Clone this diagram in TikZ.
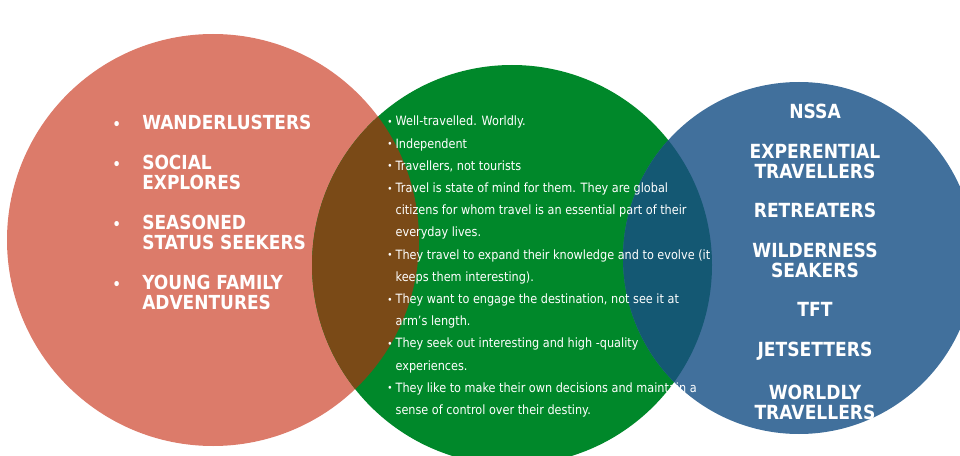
\documentclass[tikz,border=0pt]{standalone}
\usepackage{fontspec}
\setmainfont{DejaVu Sans}[FakeStretch=0.88]
\usetikzlibrary{positioning}

\definecolor{salmon}{RGB}{220,123,106}
\definecolor{leaf}{RGB}{0,136,42}
\definecolor{steel}{RGB}{65,112,156}
\definecolor{umber}{RGB}{122,74,23}
\definecolor{deepteal}{RGB}{20,88,115}

\newcommand{\bigdot}{\llap{{\fontsize{11}{11}\selectfont\textbullet}\hspace{16pt}}}
\newcommand{\itm}{\makebox[6.3pt][l]{\fontsize{7.5}{6}\selectfont\raisebox{0.4pt}{\textbullet}}}
\newcommand{\cnt}{\hspace*{6.3pt}}

\tikzset{
  group/.style={font=\bfseries\fontsize{14.5}{15}\selectfont, text=white,
    inner sep=0pt, align=left},
  kind/.style={font=\bfseries\fontsize{14.6}{15}\selectfont, text=white,
    inner sep=0pt, align=center},
  traits/.style={font=\fontsize{9.6}{16.65}\selectfont, text=white,
    inner sep=0pt, align=left, anchor=north west},
}

\begin{document}
\begin{tikzpicture}[x=0.75pt,y=-0.75pt]
  \useasboundingbox (0,0) rectangle (960,456);

  \coordinate (lc) at (213,240);
  \coordinate (mc) at (512,265);
  \coordinate (rc) at (799,258);

  \fill[salmon] (lc) circle [radius=206];
  \fill[leaf] (mc) circle [radius=200];
  \fill[steel] (rc) circle [radius=176];
  \begin{scope}
    \clip (lc) circle [radius=206];
    \fill[umber] (mc) circle [radius=200];
  \end{scope}
  \begin{scope}
    \clip (rc) circle [radius=176];
    \fill[deepteal] (mc) circle [radius=200];
  \end{scope}

  % left circle
  \node[group, anchor=north west] (wander) at (142,115) {\bigdot WANDERLUSTERS};
  \node[group, below=18.6pt of wander.south west, anchor=north west] (social) {\bigdot SOCIAL\\EXPLORES};
  \node[group, below=18.6pt of social.south west, anchor=north west] (status) {\bigdot SEASONED\\STATUS SEEKERS};
  \node[group, below=18.6pt of status.south west, anchor=north west] (family) {\bigdot YOUNG FAMILY\\ADVENTURES};

  % middle circle
  \node[traits] (about) at (387,116) {%
    \itm Well-travelled. Worldly.\\
    \itm Independent\\
    \itm Travellers, not tourists\\
    \itm Travel is state of mind for them. They are global\\
    \cnt citizens for whom travel is an essential part of their\\
    \cnt everyday lives.\\
    \itm They travel to expand their knowledge and to evolve (it\\
    \cnt keeps them interesting).\\
    \itm They want to engage the destination, not see it at\\
    \cnt arm’s length.\\
    \itm They seek out interesting and high -quality\\
    \cnt experiences.\\
    \itm They like to make their own decisions and maintain a\\
    \cnt sense of control over their destiny.};

  % right circle
  \node[kind, anchor=north] (nssa) at (815,104) {NSSA};
  \node[kind, below=18.3pt of nssa] (exper) {EXPERENTIAL\\TRAVELLERS};
  \node[kind, below=18.3pt of exper] (retreat) {RETREATERS};
  \node[kind, below=18.3pt of retreat] (wild) {WILDERNESS\\SEAKERS};
  \node[kind, below=18.3pt of wild] (tft) {TFT};
  \node[kind, below=18.3pt of tft] (jet) {JETSETTERS};
  \node[kind, below=18.3pt of jet] (worldly) {WORLDLY\\TRAVELLERS};
\end{tikzpicture}
\end{document}
